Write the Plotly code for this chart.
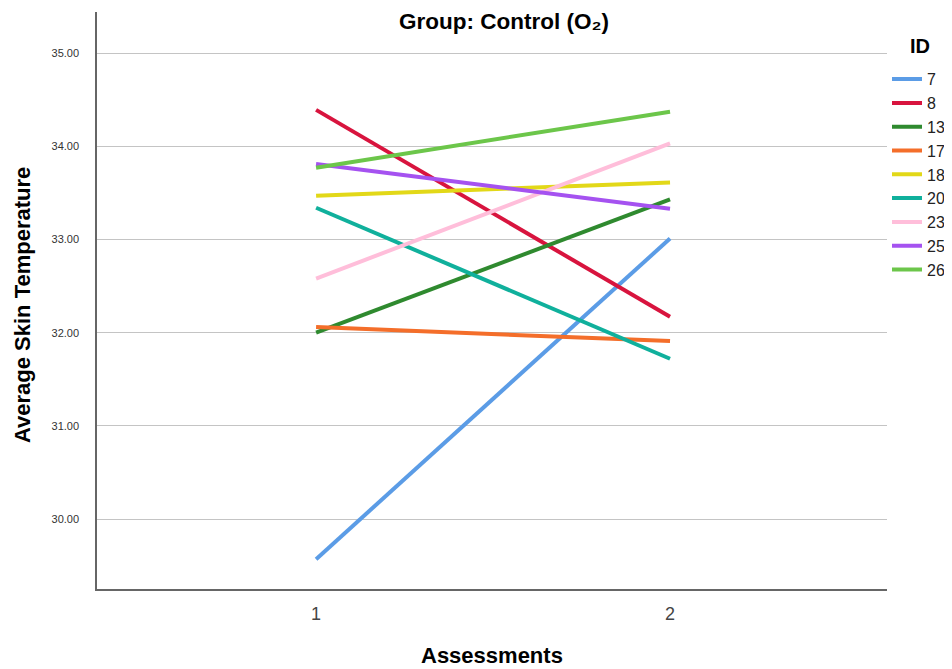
import plotly.graph_objects as go

assessments = [1, 2]
ids = ["7", "8", "13", "17", "18", "20", "23", "25", "26"]
values = {
    "7": [29.57, 33.01],
    "8": [34.39, 32.17],
    "13": [32.00, 33.43],
    "17": [32.06, 31.91],
    "18": [33.47, 33.61],
    "20": [33.34, 31.72],
    "23": [32.58, 34.03],
    "25": [33.81, 33.33],
    "26": [33.77, 34.37],
}
colors = ["#5B9CE6", "#D8143E", "#2F8A2F", "#F46E2A", "#E2D818",
          "#10B09C", "#FFBEDA", "#A552F0", "#6CC64A"]
y_ticks = [30, 31, 32, 33, 34, 35]
y_tick_labels = ["30.00", "31.00", "32.00", "33.00", "34.00", "35.00"]

fig = go.Figure()
for i, c in zip(ids, colors):
    fig.add_trace(go.Scatter(
        x=assessments, y=values[i], mode="lines", name=i,
        line=dict(color=c, width=4),
    ))

fig.update_layout(
    width=944, height=661,
    margin=dict(l=89, r=65, t=4, b=80, autoexpand=False),
    paper_bgcolor="white", plot_bgcolor="white",
    font=dict(family="Liberation Sans, Arial, sans-serif", color="#222"),
    title=dict(text="<b>Group: Control (O\u2082)</b>", x=0.5254, xanchor="center",
               y=0.9803, yanchor="middle", pad=dict(t=0, b=0),
               font=dict(size=22.5, color="#000")),
    legend=dict(x=1.0, xanchor="left", y=0.913, yanchor="top",
                font=dict(size=16, color="#222"), tracegroupgap=0,
                itemwidth=30, bgcolor="rgba(0,0,0,0)"),
    annotations=[
        dict(text="<b>ID</b>", x=1.0266, y=0.941, xref="paper", yref="paper",
             xanchor="left", yanchor="middle", showarrow=False,
             font=dict(size=20, color="#000")),
        dict(text="<b>Assessments</b>", x=0.5, y=-0.116, xref="paper", yref="paper",
             xanchor="center", yanchor="middle", showarrow=False,
             font=dict(size=22, color="#000")),
        dict(text="<b>Average Skin Temperature</b>", x=-0.095, y=0.492,
             xref="paper", yref="paper", textangle=-90,
             xanchor="center", yanchor="middle", showarrow=False,
             font=dict(size=22, color="#000")),
    ],
    xaxis=dict(range=[0.381, 2.613], tickvals=assessments, ticktext=["1", "2"],
               showgrid=False, zeroline=False, showline=True, linecolor="#666",
               linewidth=1.5, ticks="", ticklabelstandoff=8,
               tickfont=dict(size=18, color="#444"), automargin=False),
    yaxis=dict(range=[29.25, 35.44], tickvals=y_ticks, ticktext=y_tick_labels,
               showgrid=True, gridcolor="#C4C4C4", gridwidth=1.2, zeroline=False,
               showline=True, linecolor="#666", linewidth=1.5, ticks="",
               ticklabelstandoff=14,
               tickfont=dict(size=11, color="#333"), automargin=False),
)

fig.write_html("out.html")
